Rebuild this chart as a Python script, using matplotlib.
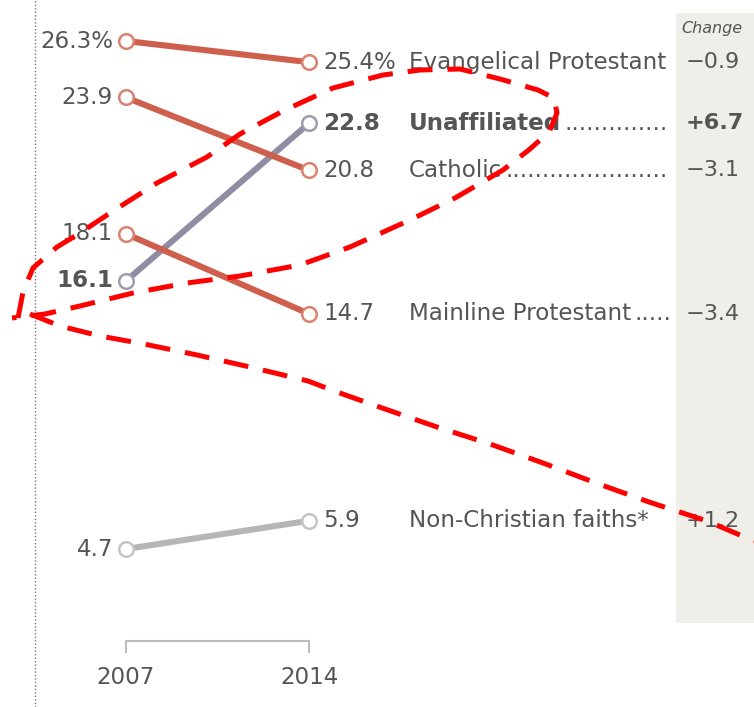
import matplotlib
matplotlib.use("Agg")
import matplotlib.pyplot as plt
import matplotlib.transforms as mtrans
import numpy as np

# ---- data ----
years = [2007, 2014]
categories = ["Evangelical Protestant", "Unaffiliated", "Catholic",
              "Mainline Protestant", "Non-Christian faiths*"]
values_2007 = [26.3, 16.1, 23.9, 18.1, 4.7]
values_2014 = [25.4, 22.8, 20.8, 14.7, 5.9]
left_labels = ["26.3%", "16.1", "23.9", "18.1", "4.7"]
right_labels = ["25.4%", "22.8", "20.8", "14.7", "5.9"]
changes = ["\u22120.9", "+6.7", "\u22123.1", "\u22123.4", "+1.2"]
leader = [False, True, True, True, False]
bold = [False, True, False, False, False]
line_colors = ["#cd5f4c", "#908ca2", "#cd5f4c", "#cd5f4c", "#b6b6b6"]
edge_colors = ["#d9826f", "#9e9bae", "#d9826f", "#d9826f", "#c4c4c4"]

W, H = 754, 707
fig = plt.figure(figsize=(W / 100, H / 100), dpi=100)
ax = fig.add_axes([0, 0, 1, 1])
ax.set_axis_off()

# pixel mapping: 2007 -> x=126, 2014 -> x=309 ; 26.3 -> y=41, 4.7 -> y=549
px_per_year = (309 - 126) / 7
px_per_unit = (549 - 41) / (26.3 - 4.7)
ax.set_xlim(2007 - 126 / px_per_year, 2007 + (W - 126) / px_per_year)
ax.set_ylim(26.3 - (H - 41) / px_per_unit, 26.3 + 41 / px_per_unit)

TXT = "#555555"
FS = 16.6

def fx(px):
    return px / W

def fy(py):
    return 1 - py / H

# grey "Change" panel
ax.add_patch(plt.Rectangle((fx(676), fy(623)), 1 - fx(676), fy(13) - fy(623),
                           transform=ax.transAxes, color="#efeee8", zorder=0, lw=0))
ax.text(fx(681), fy(29), "Change", transform=ax.transAxes, fontsize=11.5,
        style="italic", color=TXT, va="center", ha="left")

# dotted left rule
ax.plot([fx(35), fx(35)], [0, 1], transform=ax.transAxes, color="#777777",
        lw=1.0, ls=(0, (1, 1.5)))

# slope lines
for i in range(len(categories)):
    ax.plot(years, [values_2007[i], values_2014[i]], color=line_colors[i],
            lw=4.4, solid_capstyle="butt", zorder=2)
    ax.plot(years, [values_2007[i], values_2014[i]], ls="none", marker="o",
            ms=10.5, mfc="white", mec=edge_colors[i], mew=1.8, zorder=3)

fig.canvas.draw()
renderer = fig.canvas.get_renderer()
xpix_left = 113
xpix_val = 323
xpix_name = 409
bl = mtrans.blended_transform_factory(ax.transAxes, ax.transData)

for i in range(len(categories)):
    w = "bold" if bold[i] else "normal"
    ax.text(fx(xpix_left), values_2007[i], left_labels[i], transform=bl,
            ha="right", va="center", fontsize=FS, color=TXT, fontweight=w)
    ax.text(fx(xpix_val), values_2014[i], right_labels[i], transform=bl,
            ha="left", va="center", fontsize=FS, color=TXT, fontweight=w)
    t = ax.text(fx(xpix_name), values_2014[i], categories[i], transform=bl,
                ha="left", va="center", fontsize=FS, color=TXT, fontweight=w)
    if leader[i]:
        bb = t.get_window_extent(renderer)
        dot = ax.text(0, 0, ".", fontsize=FS)
        dw = dot.get_window_extent(renderer).width
        dot.remove()
        n = int((671 - bb.x1 - 3) / dw)
        ax.text(bb.x1 / W + 3 / W, values_2014[i], "." * max(n, 0), transform=bl,
                ha="left", va="center", fontsize=FS, color=TXT)
    ax.text(fx(686), values_2014[i], changes[i], transform=bl,
            ha="left", va="center", fontsize=FS - 0.5, color=TXT, fontweight=w)

# year bracket
bt = mtrans.blended_transform_factory(ax.transData, ax.transAxes)
ax.plot([years[0], years[0], years[1], years[1]],
        [fy(652), fy(641), fy(641), fy(652)], transform=bt, color="#bbbbbb", lw=1.5)
for yr in years:
    ax.text(yr, fy(677), str(yr), transform=bt, ha="center", va="center",
            fontsize=FS, color=TXT)

# red dashed hand-drawn annotation (pixel coords)
loop_px = [(18, 318), (23, 292), (33, 268), (57, 247), (80, 233), (110, 213),
           (157, 183), (207, 157), (240, 134), (283, 111), (333, 88), (383, 75),
           (420, 70), (460, 69), (500, 79), (538, 90), (554, 98), (557, 113),
           (549, 132), (530, 149), (503, 170), (455, 198), (410, 220),
           (350, 247), (300, 265), (240, 276), (187, 283), (133, 293),
           (80, 306), (45, 314), (12, 318)]
tail_px = [(30, 314), (60, 326), (100, 336), (144, 344), (197, 355), (250, 367),
           (308, 381), (337, 392), (385, 409), (437, 427), (490, 444),
           (543, 463), (596, 483), (649, 502), (707, 521), (754, 541)]
for path in (loop_px, tail_px):
    xs = [fx(p[0]) for p in path]
    ys = [fy(p[1]) for p in path]
    ax.plot(xs, ys, transform=ax.transAxes, color="#ff0000", lw=3.6,
            ls=(0, (5, 3)), solid_joinstyle="round", zorder=10)

fig.savefig("out.png", dpi=100)
